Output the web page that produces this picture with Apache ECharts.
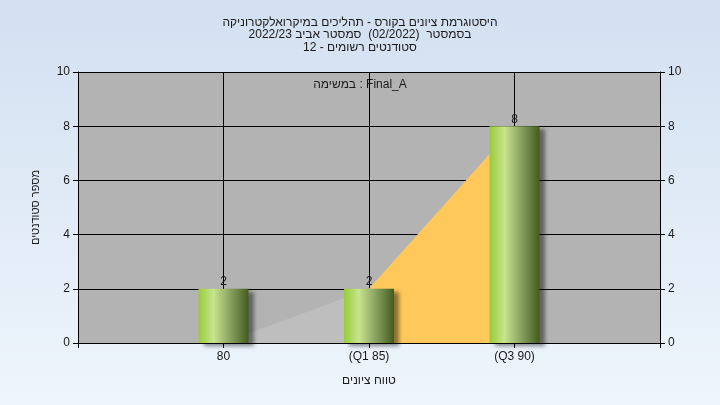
<!DOCTYPE html>
<html>
<head>
<meta charset="utf-8">
<script src="https://cdn.jsdelivr.net/npm/echarts@6/dist/echarts.min.js"></script>
<style>html,body{margin:0;padding:0;}#c{width:720px;height:405px;}</style>
</head>
<body>
<div id="c"></div>
<script>
const titleLines = ['היסטוגרמת ציונים בקורס - תהליכים במיקרואלקטרוניקה', 'בסמסטר  (02/2022)  סמסטר אביב 2022/23', 'סטודנטים רשומים - 12'];
const taskLabel = 'במשימה : Final_A';
const xAxisName = 'טווח ציונים';
const yAxisName = 'מספר סטודנטים';
const categories = ['', '80', '(Q1 85)', '(Q3 90)', ''];
const counts = [null, 2, 2, 8, null];
const lowerArea = [null, 0, 2, null, null];
const upperArea = [null, null, 2, 8, null];
const yTicks = [0, 2, 4, 6, 8, 10];

const chart = echarts.init(document.getElementById('c'), null, {renderer: 'canvas'});
const font = 'Liberation Sans, Arial, sans-serif';
const txt = '#1a1a1a';
const yAxisCommon = {
  type: 'value', min: yTicks[0], max: yTicks[yTicks.length - 1], interval: 2,
  axisLine: {show: true, lineStyle: {color: '#000', width: 1}},
  axisTick: {show: true, length: 5, lineStyle: {color: '#000'}},
  axisLabel: {color: txt, fontSize: 12, fontFamily: font, margin: 8},
  splitLine: {show: false}
};
chart.setOption({
  animation: false,
  backgroundColor: new echarts.graphic.LinearGradient(0, 0, 0, 1, [
    {offset: 0, color: '#d3e0f1'}, {offset: 1, color: '#eef5fc'}
  ]),
  title: [{
    text: titleLines.join('\n'), left: 'center', top: 11,
    textStyle: {fontSize: 12, fontWeight: 'normal', color: txt, fontFamily: font, lineHeight: 12.5}
  }],
  graphic: [{
    type: 'text', left: 'center', top: 79,
    style: {text: taskLabel, fontSize: 12, fill: txt, fontFamily: font}
  }],
  grid: {left: 78, right: 60, top: 72, bottom: 62, show: true, backgroundColor: '#b3b3b3', borderWidth: 0},
  xAxis: {
    type: 'category', data: categories, boundaryGap: false,
    name: xAxisName, nameLocation: 'middle', nameGap: 32,
    nameTextStyle: {color: txt, fontSize: 12, fontFamily: font},
    axisLine: {show: true, lineStyle: {color: '#000', width: 1}},
    axisTick: {show: true, length: 5, lineStyle: {color: '#000'}},
    axisLabel: {color: txt, fontSize: 12, fontFamily: font, margin: 8, interval: 0},
    splitLine: {show: true, lineStyle: {color: '#000', width: 1}}
  },
  yAxis: [
    Object.assign({}, yAxisCommon, {
      position: 'left', name: yAxisName, nameLocation: 'middle', nameGap: 37, nameRotate: 90,
      nameTextStyle: {color: txt, fontSize: 11, fontFamily: font},
      splitLine: {show: true, lineStyle: {color: '#000', width: 1}}
    }),
    Object.assign({}, yAxisCommon, {position: 'right'})
  ],
  series: [
    {type: 'line', data: lowerArea, symbol: 'none', lineStyle: {width: 0}, areaStyle: {color: '#bebebe', opacity: 1}, z: 1, silent: true},
    {type: 'line', data: upperArea, symbol: 'none', lineStyle: {width: 0}, areaStyle: {color: '#fec95a', opacity: 1}, z: 1, silent: true},
    {
      type: 'bar', data: counts, barWidth: 50, z: 3,
      itemStyle: {
        color: new echarts.graphic.LinearGradient(0, 0, 1, 0, [
          {offset: 0, color: '#98cb3a'},
          {offset: 0.3, color: '#c8e48e'},
          {offset: 0.6, color: '#90a866'},
          {offset: 1, color: '#435c1e'}
        ]),
        shadowColor: 'rgba(0,0,0,0.45)', shadowBlur: 4, shadowOffsetX: 5, shadowOffsetY: 3
      },
      label: {show: true, position: 'top', distance: 1, color: txt, fontSize: 12, fontFamily: font}
    }
  ]
});
</script>
</body>
</html>
